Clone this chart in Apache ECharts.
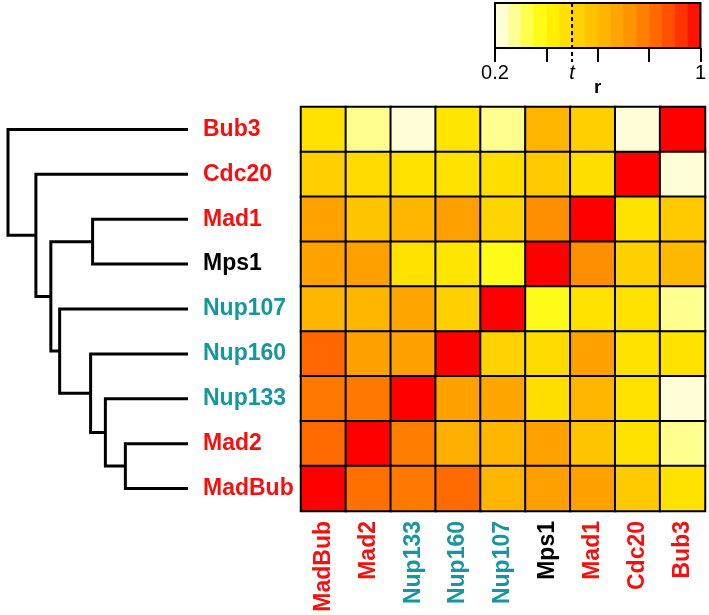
<!DOCTYPE html>
<html><head><meta charset="utf-8">
<script src="https://cdn.jsdelivr.net/npm/echarts@6/dist/echarts.min.js"></script>
<style>html,body{margin:0;padding:0;background:#fff}#c{width:709px;height:615px}</style>
</head><body><div id="c"></div>
<script>
// ---- data ----
const colGenes = ['MadBub','Mad2','Nup133','Nup160','Nup107','Mps1','Mad1','Cdc20','Bub3'];
const rowGenes = ['Bub3','Cdc20','Mad1','Mps1','Nup107','Nup160','Nup133','Mad2','MadBub'];
const checkpointGenes = ['MadBub','Mad2','Mad1','Cdc20','Bub3'];
const nucleoporinGenes = ['Nup133','Nup160','Nup107'];
const kinaseGenes = ['Mps1'];
// correlation r, rows top->bottom (rowGenes), columns left->right (colGenes)
const rBub3   = [0.47,0.28,0.22,0.46,0.28,0.62,0.53,0.22,1.00];
const rCdc20  = [0.53,0.49,0.47,0.47,0.48,0.55,0.48,1.00,0.22];
const rMad1   = [0.68,0.57,0.62,0.69,0.51,0.74,1.00,0.47,0.55];
const rMps1   = [0.68,0.69,0.47,0.46,0.37,1.00,0.74,0.53,0.61];
const rNup107 = [0.62,0.62,0.67,0.53,1.00,0.37,0.47,0.47,0.28];
const rNup160 = [0.83,0.68,0.68,1.00,0.52,0.49,0.68,0.47,0.47];
const rNup133 = [0.79,0.79,1.00,0.68,0.67,0.48,0.62,0.47,0.22];
const rMad2   = [0.82,1.00,0.78,0.64,0.62,0.68,0.57,0.47,0.28];
const rMadBub = [1.00,0.81,0.79,0.82,0.62,0.69,0.68,0.55,0.47];
const matrixRows = [rBub3,rCdc20,rMad1,rMps1,rNup107,rNup160,rNup133,rMad2,rMadBub];
// dendrogram linkage (leaf ids = rowGenes index, new node id = 9 + merge index): [childA, childB, height]
const linkage = [
  [7, 8, 0.348],
  [6, 9, 0.459],
  [5, 10, 0.541],
  [2, 3, 0.530],
  [4, 11, 0.713],
  [12, 13, 0.762],
  [1, 14, 0.845],
  [0, 15, 1.000]
];
// colour bar
const colorbarBreaks = [0.20,0.25,0.30,0.35,0.40,0.45,0.50,0.55,0.60,0.65,0.70,0.75,0.80,0.85,0.90,0.95,1.00];
const colorbarTicks = [0.2,0.4,0.6,0.8,1.0];
const colorbarLabels = [0.2,0.5,1.0];
const threshold = 0.5;
const rMin = 0.2, rMax = 1.0;
const rampColors = ['#FFFEEA','#FFFFC0','#FFFF70','#FFFF28','#FFF600','#FFE800','#FFD800','#FFCA00','#FFBC00',
  '#FFAC00','#FF9C00','#FF8A00','#FF7400','#FF5E00','#FF4400','#FF2400','#FF0000'];

// ---- build ----
const RED = '#F51010', TEAL = '#17969E', BLACK = '#000';
function geneColor(g){
  if (checkpointGenes.indexOf(g) >= 0) return RED;
  if (nucleoporinGenes.indexOf(g) >= 0) return TEAL;
  return BLACK;
}
const heatData = [];
matrixRows.forEach((row, ri) => row.forEach((v, ci) => heatData.push([ci, ri, v])));

// dendrogram node positions
const nodeY = rowGenes.map((_, i) => i);
const nodeH = rowGenes.map(() => 0);
const dendroData = [];
linkage.forEach(([a, b, h]) => {
  dendroData.push([h, nodeY[a], nodeY[b], nodeH[a], nodeH[b]]);
  nodeY.push((nodeY[a] + nodeY[b]) / 2);
  nodeH.push(h);
});

const bandData = [];
for (let i = 0; i < colorbarBreaks.length - 1; i++) {
  bandData.push([colorbarBreaks[i], colorbarBreaks[i+1], (colorbarBreaks[i] + colorbarBreaks[i+1]) / 2]);
}

const FONT = '"Liberation Sans", Arial, Helvetica, sans-serif';
const chart = echarts.init(document.getElementById('c'), null, {renderer: 'canvas'});
chart.setOption({
  animation: false,
  backgroundColor: '#fff',
  grid: [
    {left: 301, top: 107, width: 404, height: 404},
    {left: 8, top: 107, width: 180, height: 404},
    {left: 495, top: 3, width: 206, height: 45}
  ],
  xAxis: [
    {gridIndex: 0, type: 'category', data: colGenes, position: 'bottom',
      axisLine: {show: false}, axisTick: {show: false}, splitLine: {show: false},
      axisLabel: {rotate: 90, margin: 10, fontSize: 23, fontWeight: 'bold', fontFamily: FONT,
        color: (v) => geneColor(v)}},
    {gridIndex: 1, type: 'value', min: 0, max: 1, inverse: true, show: false},
    {gridIndex: 2, type: 'value', min: rMin, max: rMax, position: 'bottom',
      axisLine: {show: false}, splitLine: {show: false},
      axisTick: {show: true, inside: false, length: 14, customValues: colorbarTicks,
        lineStyle: {color: '#000', width: 2}},
      axisLabel: {show: true, margin: 15, customValues: colorbarLabels, fontSize: 20, fontFamily: FONT, color: '#000',
        formatter: (v) => Math.abs(v - threshold) < 1e-6 ? '{t|t}' : (Math.abs(v - 1) < 1e-6 ? '1' : String(v)),
        rich: {t: {fontStyle: 'italic', fontSize: 20, fontFamily: FONT, color: '#000'}}},
      name: 'r', nameLocation: 'middle', nameGap: 30, nameMoveOverlap: false,
      nameTextStyle: {fontSize: 19, fontWeight: 'bold', fontFamily: FONT, color: '#000', verticalAlign: 'top'}}
  ],
  yAxis: [
    {gridIndex: 0, type: 'category', data: rowGenes, inverse: true, position: 'left',
      axisLine: {show: false}, axisTick: {show: false}, splitLine: {show: false},
      axisLabel: {align: 'left', margin: 98, fontSize: 23, fontWeight: 'bold', fontFamily: FONT,
        color: (v) => geneColor(v)}},
    {gridIndex: 1, type: 'value', min: -0.5, max: rowGenes.length - 0.5, inverse: true, show: false},
    {gridIndex: 2, type: 'value', min: 0, max: 1, show: false}
  ],
  visualMap: {
    type: 'continuous', show: false, min: rMin, max: rMax, dimension: 2, seriesIndex: [0, 2],
    inRange: {color: rampColors}
  },
  series: [
    {type: 'heatmap', xAxisIndex: 0, yAxisIndex: 0, data: heatData,
      itemStyle: {borderColor: '#000', borderWidth: 2}, emphasis: {disabled: true}},
    {type: 'custom', xAxisIndex: 1, yAxisIndex: 1, data: dendroData, silent: true,
      renderItem: (params, api) => {
        const h = api.value(0), ya = api.value(1), yb = api.value(2), ha = api.value(3), hb = api.value(4);
        return {type: 'polyline', shape: {points: [
            api.coord([ha, ya]), api.coord([h, ya]), api.coord([h, yb]), api.coord([hb, yb])]},
          style: {stroke: '#000', lineWidth: 3, fill: null, lineJoin: 'miter'}};
      }},
    {type: 'custom', xAxisIndex: 2, yAxisIndex: 2, data: bandData, silent: true,
      encode: {x: [0, 1]},
      renderItem: (params, api) => {
        const p0 = api.coord([api.value(0), 1]);
        const p1 = api.coord([api.value(1), 0]);
        return {type: 'rect', shape: {x: p0[0], y: p0[1], width: p1[0] - p0[0] + 0.6, height: p1[1] - p0[1]},
          style: {fill: api.visual('color')}};
      }},
    {type: 'custom', xAxisIndex: 2, yAxisIndex: 2, data: [[rMin, rMax, threshold]], silent: true, z: 5,
      renderItem: (params, api) => {
        const tl = api.coord([api.value(0), 1]);
        const br = api.coord([api.value(1), 0]);
        const tt = api.coord([api.value(2), 1]);
        const tb = api.coord([api.value(2), 0]);
        return {type: 'group', children: [
          {type: 'rect', shape: {x: tl[0], y: tl[1], width: br[0] - tl[0], height: br[1] - tl[1]},
            style: {fill: null, stroke: '#000', lineWidth: 2}},
          {type: 'line', shape: {x1: tt[0], y1: tt[1], x2: tb[0], y2: tb[1] + 14},
            style: {stroke: '#000', lineWidth: 2, lineDash: [4, 3]}}
        ]};
      }}
  ]
});
</script>
</body></html>
